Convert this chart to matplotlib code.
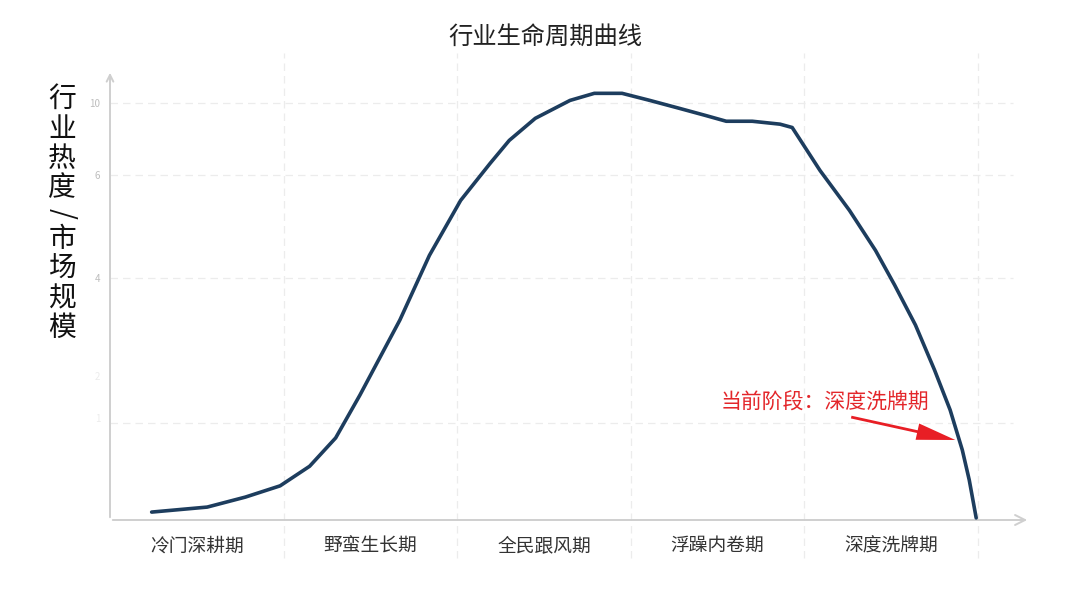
import matplotlib
matplotlib.use("Agg")
import matplotlib.pyplot as plt

plt.rcParams["font.family"] = ["Noto Sans CJK SC", "DejaVu Sans"]

# stage names along the x axis, one per unit interval
stages = ["冷门深耕期", "野蛮生长期", "全民跟风期", "浮躁内卷期", "深度洗牌期"]

# lifecycle curve (x in stage units, y in axis units)
curve_x = [0.24, 0.56, 0.78, 0.98, 1.15, 1.30, 1.44, 1.67, 1.84, 2.02, 2.19,
           2.30, 2.45, 2.65, 2.79, 2.95, 3.11, 3.28, 3.43, 3.55, 3.70, 3.86,
           3.93, 4.09, 4.26, 4.41, 4.52, 4.64, 4.75, 4.84, 4.91, 4.95, 4.99]
curve_y = [0.19, 0.31, 0.55, 0.82, 1.29, 1.97, 3.00, 4.80, 6.35, 7.67, 8.56,
           9.11, 9.64, 10.07, 10.24, 10.24, 10.07, 9.88, 9.71, 9.57, 9.57, 9.50,
           9.42, 8.39, 7.43, 6.47, 5.64, 4.68, 3.60, 2.64, 1.68, 0.96, 0.05]

# y tick positions and the (odd) labels shown on them
ytick_pos = [10.0, 8.27, 5.80, 3.45, 2.45]
ytick_lab = ["10", "6", "4", "2", "1"]
hgrid_pos = [10.0, 8.27, 5.80, 2.33]
vgrid_pos = [1, 2, 3, 4, 5]

ylabel_text = "行业热度/市场规模"
title_text = "行业生命周期曲线"
note_text = "当前阶段：深度洗牌期"
note_xy = (4.12, 2.81)
note_tail = (4.27, 2.47)
note_tip = (4.87, 1.92)

fig = plt.figure(figsize=(10.8, 6.08), dpi=100)
ax = fig.add_axes([110 / 1080, 88 / 608, 920 / 1080, 450 / 608])
ax.set_xlim(0, 5.3)
ax.set_ylim(0, 10.8)

for s in ax.spines.values():
    s.set_visible(False)

grid_c = "#ececec"
for g in hgrid_pos:
    ax.plot([0, 5.2], [g, g], color=grid_c, lw=0.9, ls=(0, (6, 4)), zorder=1)
for g in vgrid_pos:
    ax.plot([g, g], [-0.9, 11.2], color=grid_c, lw=0.9, ls=(0, (6, 4)),
            zorder=1, clip_on=False)

# axis lines with open arrow heads
axis_c = "#cfcfcf"
ax.annotate("", xy=(1.0, 0.0), xytext=(0.0, 0.0), xycoords="axes fraction",
            arrowprops=dict(arrowstyle="->", color=axis_c, lw=1.4,
                            mutation_scale=18))
ax.annotate("", xy=(0.0, 1.0), xytext=(0.0, 0.0), xycoords="axes fraction",
            arrowprops=dict(arrowstyle="->", color=axis_c, lw=1.4,
                            mutation_scale=12))

ax.plot(curve_x, curve_y, color="#1d3d5e", lw=2.6, solid_joinstyle="round",
        solid_capstyle="round", zorder=3)

ax.set_xticks([i + 0.5 for i in range(len(stages))])
ax.set_xticklabels(stages, fontsize=13.5, color="#333333")
ax.set_yticks(ytick_pos)
ax.set_yticklabels(ytick_lab, fontsize=7, color="#bdbdbd")
for lab in ax.get_yticklabels()[3:]:
    lab.set_color("#ececec")
ax.tick_params(axis="both", length=0)
ax.tick_params(axis="x", pad=11)
ax.tick_params(axis="y", pad=7)

ax.annotate(note_text, xy=note_xy, ha="center", va="center", fontsize=15,
            color="#e3262a")
ax.annotate("", xy=note_tip, xytext=note_tail,
            arrowprops=dict(arrowstyle="simple,head_width=0.6,head_length=1.4,tail_width=0.1",
                            color="#e81e25", lw=0, shrinkA=0, shrinkB=0,
                            mutation_scale=20))

fig.text(545 / 1080, 1 - 37 / 608, title_text, ha="center", va="center",
         fontsize=17.5, color="#222222", fontweight="medium")

# vertical (stacked) y label, the slash turned as in vertical CJK layout
y_px, pitch = 99, 29.8
prev_slash = False
for i, ch in enumerate(ylabel_text):
    is_slash = ch == "/"
    if i:
        y_px += pitch * (0.85 if (is_slash or prev_slash) else 1.0)
    fig.text(62 / 1080, 1 - y_px / 608, ch, ha="center", va="center",
             fontsize=20, color="#111111", fontweight="medium",
             rotation=-90 if is_slash else 0)
    prev_slash = is_slash

fig.savefig("out.png", dpi=100, facecolor="white")
